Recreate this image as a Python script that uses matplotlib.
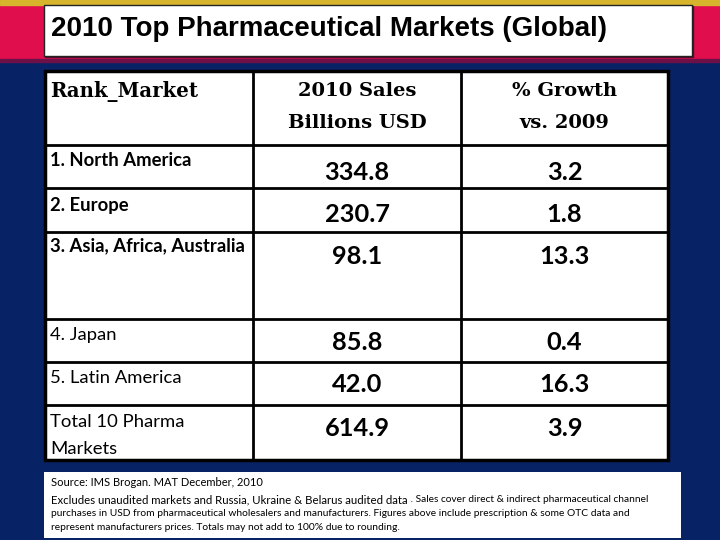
import matplotlib
matplotlib.use("Agg")
import matplotlib.pyplot as plt
from matplotlib.patches import Rectangle

title = "2010 Top Pharmaceutical Markets (Global)"
col_headers = ["Rank_Market", "2010 Sales\nBillions USD", "% Growth\nvs. 2009"]
markets = ["1. North America", "2. Europe", "3. Asia, Africa, Australia",
           "4. Japan", "5. Latin America", "Total 10 Pharma\nMarkets"]
sales = [334.8, 230.7, 98.1, 85.8, 42.0, 614.9]
growth = [3.2, 1.8, 13.3, 0.4, 16.3, 3.9]
label_bold = [True, True, True, False, False, False]
source_line = "Source: IMS Brogan. MAT December, 2010"
note_big = "Excludes unaudited markets and Russia, Ukraine & Belarus audited data"
note_small = " . Sales cover direct & indirect pharmaceutical channel"
note_rest = ["purchases in USD from pharmaceutical wholesalers and manufacturers. Figures above include prescription & some OTC data and",
             "represent manufacturers prices. Totals may not add to 100% due to rounding."]

NAVY = "#082365"
RED = "#E10E4E"
GOLD = "#D6B42C"

fig = plt.figure(figsize=(7.2, 5.4), dpi=100)
ax = fig.add_axes([0, 0, 1, 1])
ax.set_xlim(0, 720)
ax.set_ylim(540, 0)
ax.axis("off")

# background bands
ax.add_patch(Rectangle((0, 0), 720, 540, color=NAVY, zorder=0))
ax.add_patch(Rectangle((0, 0), 720, 60, color=RED, zorder=1))
ax.add_patch(Rectangle((0, 59), 720, 3, color="#6E1048", zorder=1))
ax.add_patch(Rectangle((0, 0), 720, 5, color=GOLD, zorder=1))

# title box
ax.add_patch(Rectangle((45, 6), 648, 51, color="#5a0a2a", zorder=2))
ax.add_patch(Rectangle((44, 5), 648, 51, facecolor="white", edgecolor="#222222", lw=1, zorder=3))
ax.text(51, 29, title, fontsize=20, fontweight="bold", family="Liberation Sans",
        va="center", ha="left", zorder=4)

# table
xs = [45, 253, 461, 668]
ys = [71, 145, 188, 232, 319, 362, 405, 460]
ax.add_patch(Rectangle((xs[0], ys[0]), xs[-1] - xs[0], ys[-1] - ys[0],
                       facecolor="white", edgecolor="black", lw=2.5, zorder=3))
for x in xs[1:-1]:
    ax.plot([x, x], [ys[0], ys[-1]], color="black", lw=2, zorder=4)
for y in ys[1:-1]:
    ax.plot([xs[0], xs[-1]], [y, y], color="black", lw=2, zorder=4)

serif = "DejaVu Serif"
body = ["Lato", "DejaVu Sans"]
ax.text(50, 91, col_headers[0], fontsize=14.2, fontweight="bold", family=serif,
        va="center", ha="left", zorder=5)
for j, h in enumerate(col_headers[1:], start=1):
    cx = (xs[j] + xs[j + 1]) / 2
    for k, line in enumerate(h.split("\n")):
        ax.text(cx, 91 + k * 32, line, fontsize=14, fontweight="bold", family=serif,
                va="center", ha="center", zorder=5)

label_y = [161, 205, 246, 335, 378, 422]
num_y = [172, 214, 256, 342, 385, 428]
for i, m in enumerate(markets):
    lines = m.split("\n")
    for k, line in enumerate(lines):
        ax.text(50, label_y[i] + k * 27, line, fontsize=13.3,
                fontweight="bold" if label_bold[i] else "normal", family=body,
                va="center", ha="left", zorder=5)
    ax.text((xs[1] + xs[2]) / 2, num_y[i], f"{sales[i]:.1f}", fontsize=18.3,
            fontweight="bold", family=body, va="center", ha="center", zorder=5)
    ax.text((xs[2] + xs[3]) / 2, num_y[i], f"{growth[i]:.1f}", fontsize=18.3,
            fontweight="bold", family=body, va="center", ha="center", zorder=5)

# footnote box
ax.add_patch(Rectangle((44, 472), 637, 66, facecolor="white", edgecolor="none", zorder=3))
foot = ["Liberation Sans Narrow", "Lato", "DejaVu Sans"]
ax.text(51, 483, source_line, fontsize=8.0, family=foot, va="center", ha="left", zorder=5)
t1 = ax.text(51, 500, note_big, fontsize=8.2, family=foot, va="center", ha="left", zorder=5)
ax.annotate(note_small, xy=(1, 0.5), xycoords=t1, fontsize=7.3, family=foot,
            va="center", ha="left", zorder=5)
for k, line in enumerate(note_rest):
    ax.text(51, 514 + k * 14, line, fontsize=7.4, family=foot, va="center", ha="left", zorder=5)

fig.savefig("out.png", dpi=100)
